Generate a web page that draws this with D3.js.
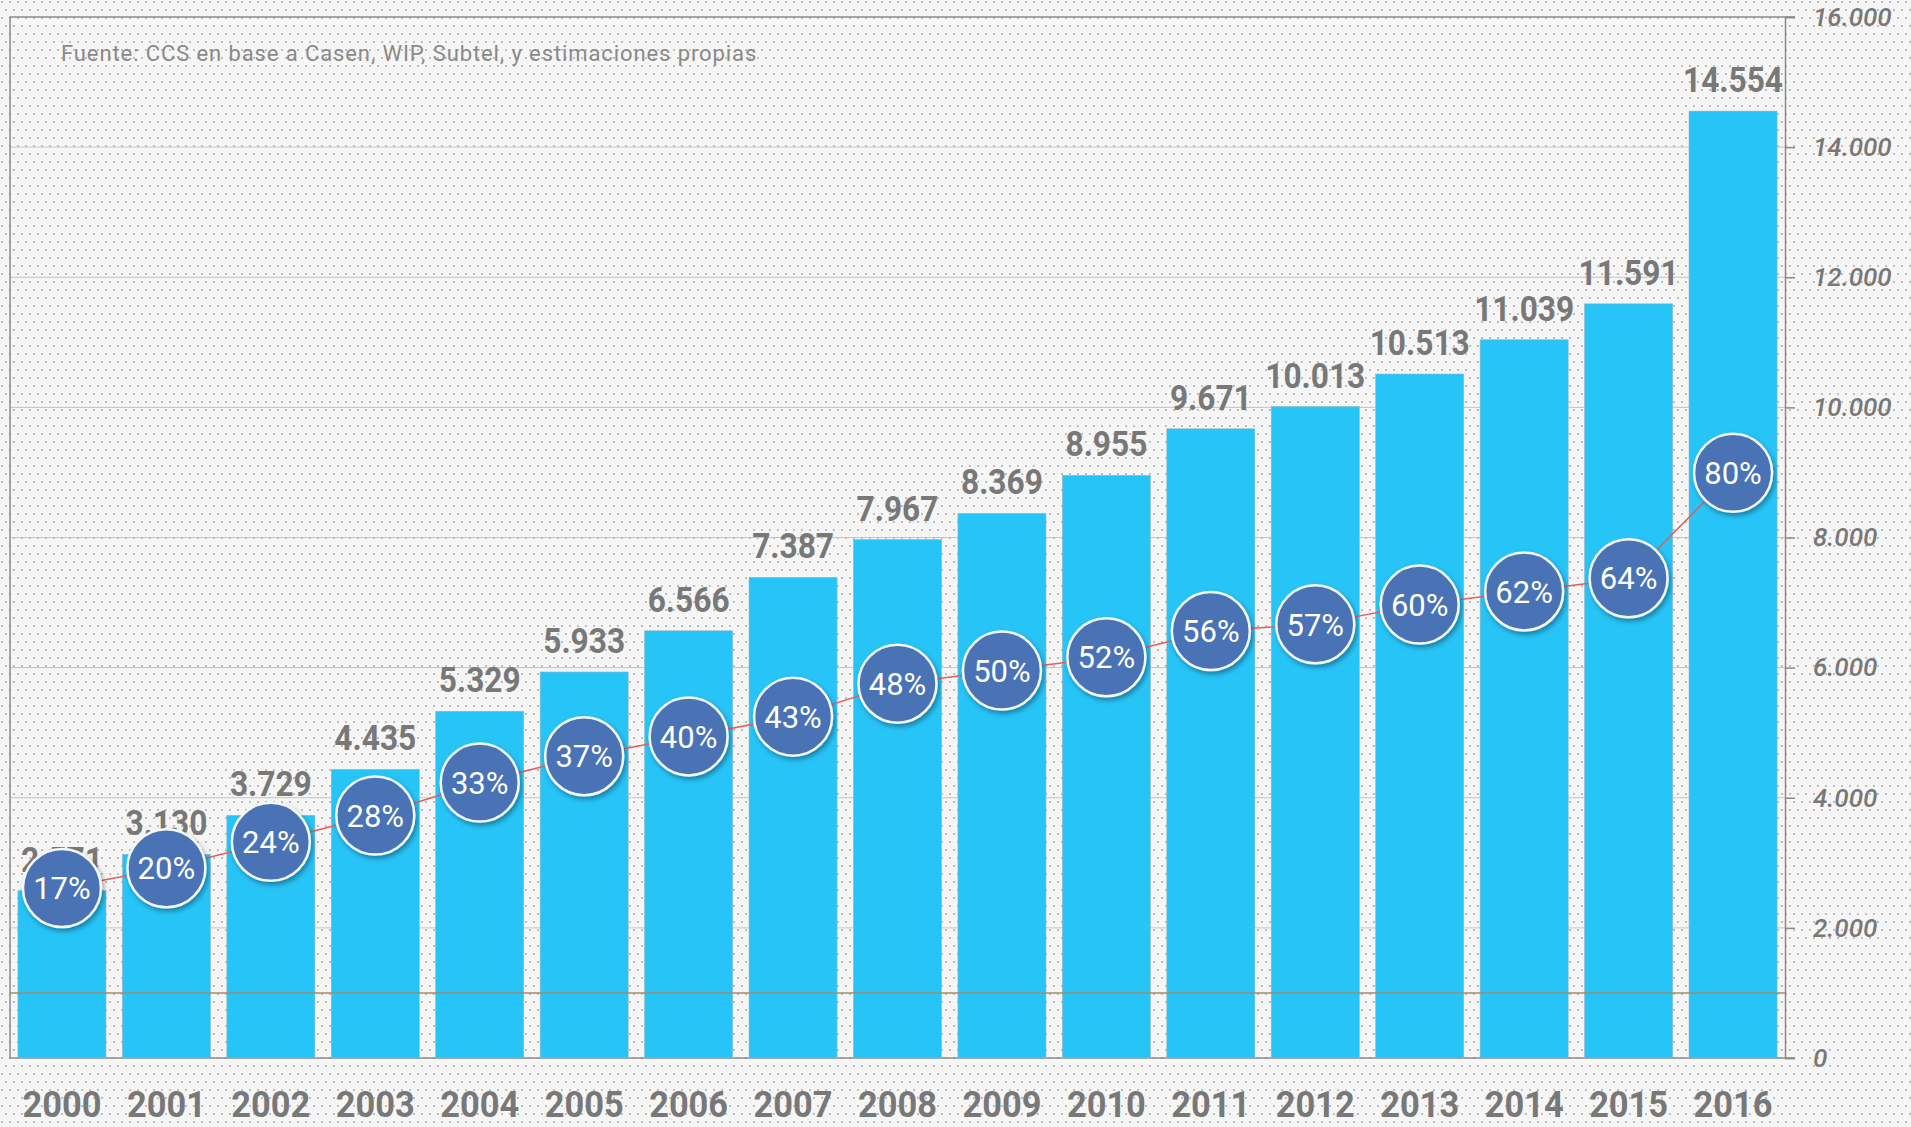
<!DOCTYPE html>
<html>
<head>
<meta charset="utf-8">
<script src="https://cdn.jsdelivr.net/npm/d3@7"></script>
<style>
  html, body { margin: 0; padding: 0; background: #f6f6f6; }
  svg { display: block; }
</style>
</head>
<body>
<div id="chart"></div>
<script>
const anios = ["2000", "2001", "2002", "2003", "2004", "2005", "2006", "2007", "2008",
    "2009", "2010", "2011", "2012", "2013", "2014", "2015", "2016"];
const valores = [2571, 3130, 3729, 4435, 5329, 5933, 6566, 7387, 7967,
    8369, 8955, 9671, 10013, 10513, 11039, 11591, 14554];
const porcentajes = [0.17, 0.20, 0.24, 0.28, 0.33, 0.37, 0.40, 0.43, 0.48,
    0.50, 0.52, 0.56, 0.57, 0.60, 0.62, 0.64, 0.80];
const ticksY = [0, 2000, 4000, 6000, 8000, 10000, 12000, 14000, 16000];
const fuente = "Fuente: CCS en base a Casen, WIP, Subtel, y estimaciones propias";

const width = 1911;
const height = 1127;

const gris = "#787878";

const formato = d3.formatLocale({ decimal: ",", thousands: ".", grouping: [3], currency: ["$", ""] }).format(",d");

const svg = d3.select("#chart")
    .append("svg")
    .attr("width", width)
    .attr("height", height)
    .style("font-family", "Roboto, sans-serif");

const defs = svg.append("defs");

// fondo punteado
const patron = defs.append("pattern")
    .attr("id", "puntos")
    .attr("width", 8)
    .attr("height", 16)
    .attr("patternUnits", "userSpaceOnUse");
patron.append("rect").attr("width", 8).attr("height", 16).attr("fill", "#f6f6f6");
patron.append("circle").attr("cx", 2).attr("cy", 2).attr("r", 0.9).attr("fill", "#a4a4a4");
patron.append("circle").attr("cx", 6).attr("cy", 10).attr("r", 0.9).attr("fill", "#a4a4a4");

const sombra = defs.append("filter")
    .attr("id", "sombra")
    .attr("x", "-30%").attr("y", "-30%")
    .attr("width", "160%").attr("height", "160%");
sombra.append("feDropShadow")
    .attr("dx", 2).attr("dy", 3)
    .attr("stdDeviation", 2.5)
    .attr("flood-color", "#000")
    .attr("flood-opacity", 0.35);

svg.append("rect")
    .attr("width", width)
    .attr("height", height)
    .attr("fill", "url(#puntos)");

const x = d3.scaleBand()
    .domain(anios)
    .range([10, 1785])
    .paddingInner(0.157)
    .paddingOuter(0.076);

const y = d3.scaleLinear()
    .domain([0, 16000])
    .range([1058, 17]);

const y2 = d3.scaleLinear()
    .domain([0, 1])
    .range([1000, 341]);

const centro = (i) => x(anios[i]) + x.bandwidth() / 2;

// grilla
svg.append("g")
    .selectAll("line")
    .data(ticksY.slice(1, -1))
    .enter()
    .append("line")
    .attr("x1", 10)
    .attr("x2", 1785)
    .attr("y1", d => y(d))
    .attr("y2", d => y(d))
    .attr("stroke", "#c4c4c4")
    .attr("stroke-width", 1);

// marco
svg.append("path")
    .attr("d", `M1795,${y(16000)}H10V${y(0)}H1795`)
    .attr("fill", "none")
    .attr("stroke", "#8a8a8a")
    .attr("stroke-width", 1.5);

// barras
svg.append("g")
    .selectAll("rect")
    .data(valores)
    .enter()
    .append("rect")
    .attr("x", (d, i) => x(anios[i]))
    .attr("y", d => y(d))
    .attr("width", x.bandwidth())
    .attr("height", d => y(0) - y(d))
    .attr("fill", "#27c4f8")
    .attr("stroke", "#8fb8c8")
    .attr("stroke-width", 0.6);

// linea en 1.000
svg.append("line")
    .attr("x1", 10)
    .attr("x2", 1785)
    .attr("y1", y(1000))
    .attr("y2", y(1000))
    .attr("stroke", "#a38b6c")
    .attr("stroke-width", 1.5);

// eje derecho
const eje = svg.append("g")
    .attr("transform", "translate(1785,0)")
    .call(d3.axisRight(y).tickValues(ticksY).tickSize(10).tickPadding(18).tickFormat(formato));
eje.select(".domain").attr("stroke", "#8a8a8a").attr("stroke-width", 1.5);
eje.selectAll(".tick line").attr("stroke", "#8a8a8a").attr("stroke-width", 1.5);
eje.selectAll(".tick text")
    .attr("fill", gris)
    .style("font-family", "Roboto, sans-serif")
    .style("font-style", "italic")
    .style("font-weight", 500)
    .style("font-size", "26px");

// valores sobre barras (letra angosta: escala horizontal)
svg.append("g")
    .selectAll("text")
    .data(valores)
    .enter()
    .append("text")
    .attr("transform", (d, i) => `translate(${centro(i)},${y(d) - 19}) scale(0.88,1)`)
    .attr("text-anchor", "middle")
    .attr("fill", gris)
    .style("font-weight", "bold")
    .style("font-size", "36px")
    .text(d => formato(d));

// años
svg.append("g")
    .selectAll("text")
    .data(anios)
    .enter()
    .append("text")
    .attr("transform", (d, i) => `translate(${centro(i)},1117) scale(0.93,1)`)
    .attr("text-anchor", "middle")
    .attr("fill", gris)
    .style("font-weight", "bold")
    .style("font-size", "37px")
    .text(d => d);

// linea de porcentajes
const linea = d3.line()
    .x((d, i) => centro(i))
    .y(d => y2(d));

svg.append("path")
    .datum(porcentajes)
    .attr("d", linea)
    .attr("fill", "none")
    .attr("stroke", "#e0605a")
    .attr("stroke-width", 1.5);

const puntos = svg.append("g")
    .selectAll("g")
    .data(porcentajes)
    .enter()
    .append("g")
    .attr("transform", (d, i) => `translate(${centro(i)},${y2(d)})`);

puntos.append("circle")
    .attr("r", 39)
    .attr("fill", "#4a73b4")
    .attr("stroke", "#f4f8fb")
    .attr("stroke-width", 2.5)
    .attr("filter", "url(#sombra)");

puntos.append("text")
    .attr("text-anchor", "middle")
    .attr("dy", "0.36em")
    .attr("fill", "#ffffff")
    .style("font-size", "31px")
    .text(d => Math.round(d * 100) + "%");

// fuente
svg.append("text")
    .attr("x", 61)
    .attr("y", 61)
    .attr("fill", "#8a8a8a")
    .style("font-size", "22px")
    .style("letter-spacing", "0.9px")
    .text(fuente);
</script>
</body>
</html>
